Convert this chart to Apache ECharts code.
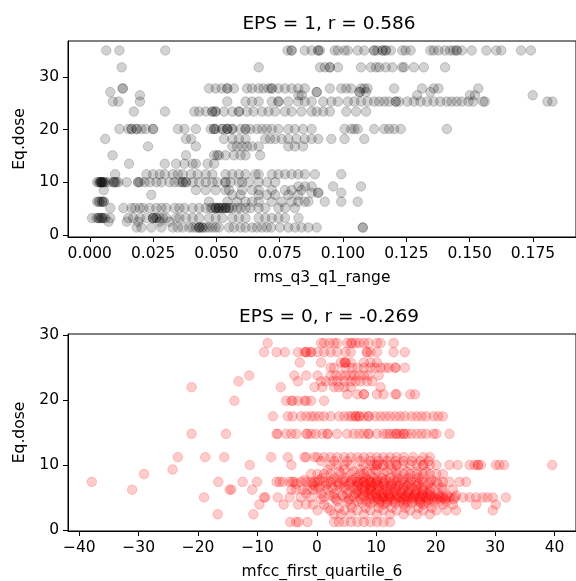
<!DOCTYPE html>
<html>
<head>
<meta charset="utf-8">
<script src="https://cdn.jsdelivr.net/npm/echarts@6/dist/echarts.min.js"></script>
<style>
html, body { margin: 0; padding: 0; background: #fff; }
#chart { width: 576px; height: 581px; }
</style>
</head>
<body>
<div id="chart"></div>
<script>
// EPS = 1 : rms_q3_q1_range values, one array per Eq.dose level
var e1_35_0 = [0.0065, 0.0117, 0.0298, 0.0781, 0.0797, 0.0797, 0.0849, 0.0876, 0.0902, 0.0902, 0.0909, 0.0967, 0.098, 0.1006, 0.1019, 0.1058, 0.1084, 0.1123, 0.1123, 0.1136, 0.1156, 0.1156, 0.1169, 0.1169, 0.1189, 0.1234, 0.1247, 0.1267, 0.1345, 0.1358, 0.1377, 0.1403, 0.1423, 0.1436, 0.1449, 0.1449, 0.1469, 0.1508, 0.1566, 0.1605, 0.1625, 0.1703, 0.1742];
var e1_31_8 = [0.0126, 0.0667, 0.0909, 0.0928, 0.0948, 0.0948, 0.098, 0.1071, 0.111, 0.113, 0.1143, 0.1169, 0.1195, 0.1234, 0.1241, 0.128, 0.1319, 0.1403];
var e1_27_8 = [0.013, 0.013, 0.0471, 0.0497, 0.0521, 0.0543, 0.0543, 0.0569, 0.0621, 0.0641, 0.0667, 0.0686, 0.0706, 0.0719, 0.0719, 0.0745, 0.0771, 0.0797, 0.0823, 0.0849, 0.0948, 0.0993, 0.1013, 0.1032, 0.1071, 0.1084, 0.1097, 0.1202, 0.1312, 0.1358, 0.1377, 0.1534];
var e1_27_1 = [0.0081, 0.0896, 0.0896, 0.1065, 0.1065, 0.1091, 0.1345];
var e1_26_5 = [0.0198, 0.0824, 0.0837, 0.1293, 0.1501, 0.1521, 0.1749];
var e1_25_3 = [0.0091, 0.0113, 0.0198, 0.0543, 0.0615, 0.0641, 0.0667, 0.0719, 0.0745, 0.0745, 0.0784, 0.0823, 0.0849, 0.0876, 0.0922, 0.0954, 0.098, 0.1019, 0.1045, 0.1071, 0.1097, 0.1123, 0.1143, 0.1163, 0.1182, 0.1208, 0.1208, 0.1221, 0.1254, 0.128, 0.1306, 0.1332, 0.1358, 0.1384, 0.141, 0.1429, 0.1449, 0.1469, 0.1495, 0.1514, 0.1553, 0.156, 0.1807, 0.1827];
var e1_23_4 = [0.0174, 0.0297, 0.0413, 0.0432, 0.0458, 0.0484, 0.0484, 0.0497, 0.0497, 0.053, 0.0563, 0.0589, 0.0589, 0.0621, 0.0647, 0.068, 0.0706, 0.0732, 0.0771, 0.0797, 0.0836, 0.0876, 0.0896, 0.0922, 0.0948, 0.1013, 0.1052, 0.1091];
var e1_20_1 = [0.0117, 0.0152, 0.0165, 0.0165, 0.0185, 0.0185, 0.0204, 0.0221, 0.025, 0.025, 0.0348, 0.0374, 0.0419, 0.0478, 0.0491, 0.0491, 0.0497, 0.0523, 0.0523, 0.0543, 0.0543, 0.0543, 0.0563, 0.0563, 0.0595, 0.0615, 0.0615, 0.0634, 0.066, 0.068, 0.0699, 0.0719, 0.0745, 0.0784, 0.081, 0.0842, 0.0876, 0.1006, 0.1032, 0.1045, 0.1058, 0.1123, 0.1163, 0.1182, 0.1202, 0.1228, 0.141];
var e1_18_2 = [0.0061, 0.038, 0.04, 0.053, 0.0563, 0.0589, 0.0615, 0.0693, 0.0712, 0.0732, 0.0758, 0.0784, 0.0816, 0.0849, 0.0876, 0.0902, 0.0954, 0.1006, 0.1084];
var e1_16_8 = [0.023, 0.0419, 0.0563, 0.0582, 0.0602, 0.0621, 0.0641, 0.0667, 0.0784, 0.081, 0.0842];
var e1_15_1 = [0.009, 0.038, 0.0491, 0.0504, 0.051, 0.0536, 0.0569, 0.0595, 0.0615, 0.0673];
var e1_13_5 = [0.0155, 0.0296, 0.0341, 0.0374, 0.0406, 0.0419, 0.0465, 0.0491];
var e1_11_5 = [0.01, 0.0224, 0.025, 0.0276, 0.0296, 0.0328, 0.0348, 0.0367, 0.04, 0.0426, 0.0458, 0.0484, 0.0536, 0.0563, 0.0589, 0.0615, 0.0654, 0.0667, 0.0719, 0.0745, 0.0771, 0.0797, 0.0823, 0.0849, 0.0889, 0.0993];
var e1_10_0 = [0.0029, 0.0035, 0.0042, 0.0042, 0.0042, 0.0048, 0.0048, 0.0048, 0.0055, 0.0055, 0.0061, 0.0074, 0.0094, 0.0094, 0.01, 0.0105, 0.0113, 0.0146, 0.0191, 0.0191, 0.0198, 0.0217, 0.0237, 0.0263, 0.0283, 0.0315, 0.0335, 0.0354, 0.0367, 0.0367, 0.038, 0.038, 0.0406, 0.0432, 0.0458, 0.0484, 0.0504, 0.0536, 0.0536, 0.0556, 0.0589, 0.0602, 0.0628, 0.0667, 0.0699, 0.0732];
var e1_9_2 = [0.0824, 0.085, 0.0876, 0.0961, 0.1071];
var e1_8_5 = [0.0055, 0.0419, 0.0458, 0.0497, 0.0536, 0.055, 0.0602, 0.0641, 0.0667, 0.0719, 0.0771, 0.0797, 0.0836];
var e1_8_0 = [0.0876, 0.0902, 0.0902, 0.0993];
var e1_7_6 = [0.0243, 0.0563, 0.0595, 0.0667, 0.0699, 0.0732, 0.0784, 0.0823];
var e1_6_3 = [0.0029, 0.0035, 0.0039, 0.0048, 0.0048, 0.0055, 0.0055, 0.0471, 0.0543, 0.0582, 0.0615, 0.0641, 0.0667, 0.0719, 0.0758, 0.0797, 0.0823, 0.0849, 0.0863, 0.0928, 0.0993, 0.1058];
var e1_5_1 = [0.0081, 0.0133, 0.0165, 0.0178, 0.0198, 0.0211, 0.0237, 0.0263, 0.0283, 0.0302, 0.0335, 0.0354, 0.0374, 0.0406, 0.0432, 0.0458, 0.0478, 0.0484, 0.0497, 0.0497, 0.0497, 0.051, 0.051, 0.051, 0.0523, 0.0523, 0.0536, 0.0536, 0.0536, 0.055, 0.055, 0.0563, 0.0582, 0.0595, 0.0615, 0.0634, 0.0667, 0.0693, 0.0745, 0.0771, 0.081];
var e1_3_2 = [0.0009, 0.0026, 0.0035, 0.0035, 0.0042, 0.0048, 0.0048, 0.0055, 0.0061, 0.0081, 0.0152, 0.0172, 0.0198, 0.0224, 0.025, 0.025, 0.025, 0.0263, 0.0263, 0.0276, 0.0289, 0.0302, 0.0341, 0.0354, 0.038, 0.0406, 0.0432, 0.0471, 0.0497, 0.0523, 0.0563, 0.0589, 0.0615, 0.0667, 0.0693, 0.0719, 0.0745, 0.0771, 0.0824];
var e1_2_5 = [0.0074, 0.0146, 0.0191, 0.0276, 0.0315];
var e1_1_4 = [0.0185, 0.0204, 0.0243, 0.0283, 0.0328, 0.0348, 0.0367, 0.0393, 0.0406, 0.0419, 0.0432, 0.0432, 0.0432, 0.0445, 0.0445, 0.0458, 0.0471, 0.0484, 0.0497, 0.051, 0.055, 0.0569, 0.0595, 0.0615, 0.0641, 0.066, 0.068, 0.0699, 0.0716, 0.0751, 0.0784, 0.081, 0.0836, 0.0863, 0.0896, 0.1078, 0.1078];

// EPS = 0 : mfcc_first_quartile_6 values, one array per Eq.dose level
var e0_28_8 = [-8.3, 0.7, 1.2, 2.1, 2.9, 3.4, 5.1, 5.7, 5.9, 6.5, 7.1, 7.9, 8.7, 10.1, 10.7, 12.9];
var e0_27_4 = [-8.9, -6.8, -5.4, -3.2, -2.1, -1.8, -1.8, -1.0, -1.0, 0.1, 1.2, 2.3, 3.4, 4.8, 5.7, 8.4, 8.4, 9.0, 10.1, 12.9, 14.8];
var e0_25_8 = [-2.9, 0.7, 4.0, 4.6, 4.8, 4.8, 5.7, 7.9, 9.0, 10.1];
var e0_25_0 = [2.3, 2.9, 4.8, 5.9, 6.8, 7.9, 9.0, 9.8, 10.7, 11.5, 12.1, 13.2, 13.2, 14.8];
var e0_23_8 = [-11.4, -3.8, -1.8, 0.1, 2.3, 3.2, 4.0, 4.8, 5.7, 6.2, 7.1, 7.9, 8.7, 10.4];
var e0_22_9 = [-13.2, -3.2, 0.7, 1.5, 2.6, 3.4, 4.6, 5.7, 6.5, 7.3, 8.4, 9.3];
var e0_22_0 = [-21.1, -6.1, -0.4, 0.9, 2.9, 3.7, 4.6, 5.7, 10.7];
var e0_20_9 = [5.1, 6.8, 7.9, 7.9, 10.1, 11.2, 13.2, 13.4, 15.7, 16.5];
var e0_19_9 = [-13.9, -5.2, -4.3, -4.1, -3.2, -2.1, -1.8, -1.0, 1.2];
var e0_17_5 = [-7.4, -4.9, -4.1, -2.7, -1.8, -1.0, -0.4, 0.4, 1.2, 2.3, 3.7, 4.6, 5.4, 5.9, 6.5, 6.5, 7.1, 7.1, 7.9, 8.7, 8.7, 9.8, 10.7, 11.5, 12.3, 13.2, 14.0, 14.8, 15.9, 16.8, 17.6, 18.4, 19.6, 20.4, 21.2];
var e0_14_8 = [-21.1, -15.3, -6.8, -6.6, -5.2, -4.3, -3.5, -1.8, -1.6, -1.0, -0.2, 0.9, 1.8, 1.8, 3.4, 5.1, 6.2, 7.1, 7.9, 8.7, 8.7, 10.1, 11.2, 11.8, 12.3, 12.9, 13.4, 13.4, 14.0, 14.6, 14.6, 15.1, 15.9, 16.8, 17.6, 18.4, 19.6, 20.1, 22.3];
var e0_11_2 = [-23.4, -18.8, -15.6, -7.7, -4.9, -2.1, -1.8, -0.4, 0.1, 1.2, 2.3, 3.4, 4.6, 5.7, 6.8, 7.9, 9.0, 10.1, 11.2, 12.3, 13.4, 14.6, 16.2, 17.9, 19.0];
var e0_10_6 = [0.7, 2.9, 5.1, 7.3, 9.0, 10.4, 11.8, 13.2, 14.6, 16.0, 17.4, 18.8];
var e0_10_0 = [-11.3, -4.3, 2.3, 3.4, 4.6, 5.7, 7.9, 9.0, 9.6, 10.1, 10.1, 11.2, 11.2, 12.3, 13.4, 13.4, 14.6, 15.7, 16.8, 17.9, 17.9, 19.0, 20.1, 22.3, 23.7, 25.7, 26.5, 27.1, 27.1, 27.6, 30.1, 30.7, 31.5, 39.6];
var e0_9_3 = [-24.3, 1.8, 4.6, 7.3, 9.8, 12.6];
var e0_9_0 = [3.7, 6.2, 8.4, 10.1, 11.8, 13.4, 15.1, 16.8, 18.4];
var e0_8_6 = [-29.1, -1.0, 0.1, 1.2, 2.3, 4.0, 5.7, 7.3, 7.9, 9.0, 11.2, 13.4, 14.6, 15.7, 16.8, 17.9, 19.0, 20.1, 21.2];
var e0_8_0 = [0.9, 2.9, 4.8, 6.5, 8.2, 9.6, 10.9, 12.3, 13.7, 15.4, 17.1];
var e0_7_7 = [-2.1, 0.4, 2.6, 4.3, 5.9, 7.3, 8.7, 10.1, 11.5, 12.9, 14.3, 15.9, 17.6, 19.3];
var e0_7_4 = [-37.9, -16.6, -12.5, -10.1, -6.8, -6.3, -5.7, -4.6, -4.1, -3.8, -2.7, -1.8, -1.0, -0.4, 0.1, 1.2, 2.3, 3.4, 4.6, 5.7, 6.8, 6.8, 7.9, 7.9, 9.0, 9.0, 10.1, 10.1, 11.2, 12.3, 13.4, 14.6, 15.7, 16.8, 17.9, 19.0, 20.1, 21.2, 22.3, 24.0, 25.1];
var e0_7_1 = [-3.5, -0.7, 1.8, 3.7, 5.4, 7.1, 8.4, 9.8, 11.2, 12.6, 14.0, 15.4, 17.1, 18.7, 20.4];
var e0_6_8 = [-0.4, 1.5, 3.7, 5.4, 6.8, 8.2, 9.3, 10.4, 11.5, 12.6, 13.7, 15.1, 16.8];
var e0_6_5 = [0.4, 2.6, 4.6, 6.2, 7.6, 9.0, 10.4, 11.8, 13.2, 14.6, 16.0, 17.6, 19.3, 21.0];
var e0_6_2 = [-31.1, -14.7, -14.4, -10.9, -4.3, -3.5, -2.4, -1.6, -0.7, 0.1, 1.8, 3.4, 5.1, 6.8, 7.9, 9.0, 9.0, 10.1, 11.2, 12.3, 13.4, 14.6, 15.7, 16.8, 17.9, 19.0, 21.2, 22.9];
var e0_5_9 = [6.8, 8.0, 9.2, 10.5, 11.7, 12.9, 14.1, 15.3, 16.6, 17.8, 19.0];
var e0_5_6 = [-1.8, 0.7, 2.9, 5.1, 6.5, 7.6, 8.7, 9.8, 10.9, 12.0, 13.1, 14.3, 15.4, 16.5, 17.6, 18.7, 20.4];
var e0_5_3 = [2.1, 4.3, 6.2, 7.9, 9.3, 10.7, 12.1, 13.5, 14.9, 16.3, 17.7, 19.1, 20.5, 21.9, 23.4];
var e0_5_0 = [-19.0, -8.9, -8.7, -6.6, -4.6, -2.7, -1.0, 1.2, 2.9, 4.6, 6.2, 7.9, 9.0, 10.1, 10.1, 11.2, 11.2, 12.3, 12.3, 13.4, 14.0, 14.6, 15.1, 15.7, 16.2, 16.8, 17.3, 17.9, 18.4, 19.0, 19.6, 20.1, 20.7, 21.2, 21.8, 22.3, 23.2, 24.6, 25.7, 26.8, 27.9, 28.7, 29.6, 31.8];
var e0_4_7 = [0.7, 3.2, 5.4, 7.3, 9.0, 10.4, 11.8, 13.2, 14.6, 16.0, 17.4, 18.8, 20.2, 21.6, 23.0];
var e0_4_4 = [3.4, 5.1, 6.8, 8.4, 9.6, 10.7, 11.8, 12.9, 14.0, 15.1, 16.2, 17.3, 18.4, 19.6, 20.7, 21.8];
var e0_4_1 = [7.6, 9.0, 10.4, 11.8, 13.2, 14.6, 16.0, 17.4, 18.8];
var e0_3_9 = [-9.7, -5.6, -3.2, -1.8, -0.7, 1.2, 5.7, 11.2, 14.6, 17.9, 21.2, 22.9, 26.8, 30.1];
var e0_3_4 = [1.8, 3.7, 5.9, 8.2, 10.4, 12.6, 14.9, 17.1, 19.3];
var e0_3_0 = [0.1, 2.3, 4.6, 6.8, 9.0, 11.2, 13.4, 15.7, 17.9, 20.1, 21.8, 23.4, 29.6];
var e0_2_4 = [-16.7, -10.7, 2.9, 4.0, 5.7, 7.9, 10.1, 12.3, 14.6, 16.8, 19.0];
var e0_1_2 = [-4.5, -3.5, -3.1, -1.6, 2.9, 3.7, 4.6, 5.7, 6.8, 7.9, 9.0, 10.1, 11.2, 12.3];

// tick labels
var ticksX1 = [0, 0.025, 0.05, 0.075, 0.1, 0.125, 0.15, 0.175];
var ticksY1 = [0, 10, 20, 30];
var ticksX0 = [-40, -30, -20, -10, 0, 10, 20, 30, 40];
var ticksY0 = [0, 10, 20, 30];

var rows1 = [[35, e1_35_0], [31.8, e1_31_8], [27.8, e1_27_8], [27.1, e1_27_1], [26.5, e1_26_5],
  [25.3, e1_25_3], [23.4, e1_23_4], [20.1, e1_20_1], [18.2, e1_18_2], [16.8, e1_16_8],
  [15.1, e1_15_1], [13.5, e1_13_5], [11.5, e1_11_5], [10, e1_10_0], [9.2, e1_9_2],
  [8.5, e1_8_5], [8, e1_8_0], [7.6, e1_7_6], [6.3, e1_6_3], [5.1, e1_5_1],
  [3.2, e1_3_2], [2.5, e1_2_5], [1.4, e1_1_4]];
var rows0 = [[28.8, e0_28_8], [27.4, e0_27_4], [25.8, e0_25_8], [25, e0_25_0], [23.8, e0_23_8],
  [22.9, e0_22_9], [22, e0_22_0], [20.9, e0_20_9], [19.9, e0_19_9], [17.5, e0_17_5],
  [14.8, e0_14_8], [11.2, e0_11_2], [10.6, e0_10_6], [10, e0_10_0], [9.3, e0_9_3], [9, e0_9_0],
  [8.6, e0_8_6], [8, e0_8_0], [7.7, e0_7_7], [7.4, e0_7_4], [7.1, e0_7_1], [6.8, e0_6_8],
  [6.5, e0_6_5], [6.2, e0_6_2], [5.9, e0_5_9], [5.6, e0_5_6], [5.3, e0_5_3], [5, e0_5_0],
  [4.7, e0_4_7], [4.4, e0_4_4], [4.1, e0_4_1], [3.9, e0_3_9], [3.4, e0_3_4], [3, e0_3_0],
  [2.4, e0_2_4], [1.2, e0_1_2]];

function toPoints(rows) {
  var pts = [];
  rows.forEach(function (r) {
    r[1].forEach(function (x) { pts.push([x, r[0]]); });
  });
  return pts;
}

var FONT = 'DejaVu Sans';

function minus(v) {
  return v < 0 ? '\u2212' + Math.abs(v) : String(v);
}

function xAxis(gi, min, max, ticks, name, fmt) {
  return {
    gridIndex: gi, type: 'value', min: min, max: max,
    splitLine: { show: false },
    axisLine: { show: true, onZero: false, lineStyle: { color: '#000', width: 1 } },
    axisTick: { show: true, length: 5, customValues: ticks, lineStyle: { color: '#000' } },
    axisLabel: { customValues: ticks, formatter: fmt, margin: 9, color: '#000', fontSize: 15.5, fontFamily: FONT },
    name: name, nameLocation: 'middle', nameGap: 33,
    nameTextStyle: { color: '#000', fontSize: 15.5, fontFamily: FONT }
  };
}

function yAxis(gi, min, max, ticks) {
  return {
    gridIndex: gi, type: 'value', min: min, max: max,
    splitLine: { show: false },
    axisLine: { show: true, onZero: false, lineStyle: { color: '#000', width: 1 } },
    axisTick: { show: true, length: 5, customValues: ticks, lineStyle: { color: '#000' } },
    axisLabel: { customValues: ticks, margin: 9, color: '#000', fontSize: 15.5, fontFamily: FONT },
    name: 'Eq.dose', nameLocation: 'middle', nameGap: 40,
    nameTextStyle: { color: '#000', fontSize: 15.5, fontFamily: FONT }
  };
}

var myChart = echarts.init(document.getElementById('chart'));
var option = {
  animation: false,
  backgroundColor: '#fff',
  title: [
    { text: 'EPS = 1, r = 0.586', left: 324, top: 10, textAlign: 'center',
      textStyle: { fontSize: 18.5, fontWeight: 'normal', fontFamily: FONT, color: '#000' } },
    { text: 'EPS = 0, r = -0.269', left: 324, top: 303, textAlign: 'center',
      textStyle: { fontSize: 18.5, fontWeight: 'normal', fontFamily: FONT, color: '#000' } }
  ],
  grid: [
    { left: 68, top: 41, width: 513, height: 196, show: true, borderColor: '#000', borderWidth: 1 },
    { left: 68, top: 334, width: 513, height: 197, show: true, borderColor: '#000', borderWidth: 1 }
  ],
  xAxis: [
    xAxis(0, -0.0086, 0.192, ticksX1, 'rms_q3_q1_range', function (v) { return v.toFixed(3); }),
    xAxis(1, -41.9, 43.6, ticksX0, 'mfcc_first_quartile_6', minus)
  ],
  yAxis: [
    yAxis(0, -0.4, 36.8, ticksY1),
    yAxis(1, -0.18, 30.2, ticksY0)
  ],
  series: [
    {
      type: 'scatter', xAxisIndex: 0, yAxisIndex: 0, symbol: 'circle', symbolSize: 9.5,
      data: toPoints(rows1), silent: true,
      itemStyle: { color: 'rgba(0,0,0,0.22)', borderColor: 'rgba(0,0,0,0.22)', borderWidth: 1 },
      emphasis: { disabled: true }
    },
    {
      type: 'scatter', xAxisIndex: 1, yAxisIndex: 1, symbol: 'circle', symbolSize: 9.5,
      data: toPoints(rows0), silent: true,
      itemStyle: { color: 'rgba(255,0,0,0.25)', borderColor: 'rgba(255,0,0,0.25)', borderWidth: 1 },
      emphasis: { disabled: true }
    }
  ]
};
myChart.setOption(option);
</script>
</body>
</html>
